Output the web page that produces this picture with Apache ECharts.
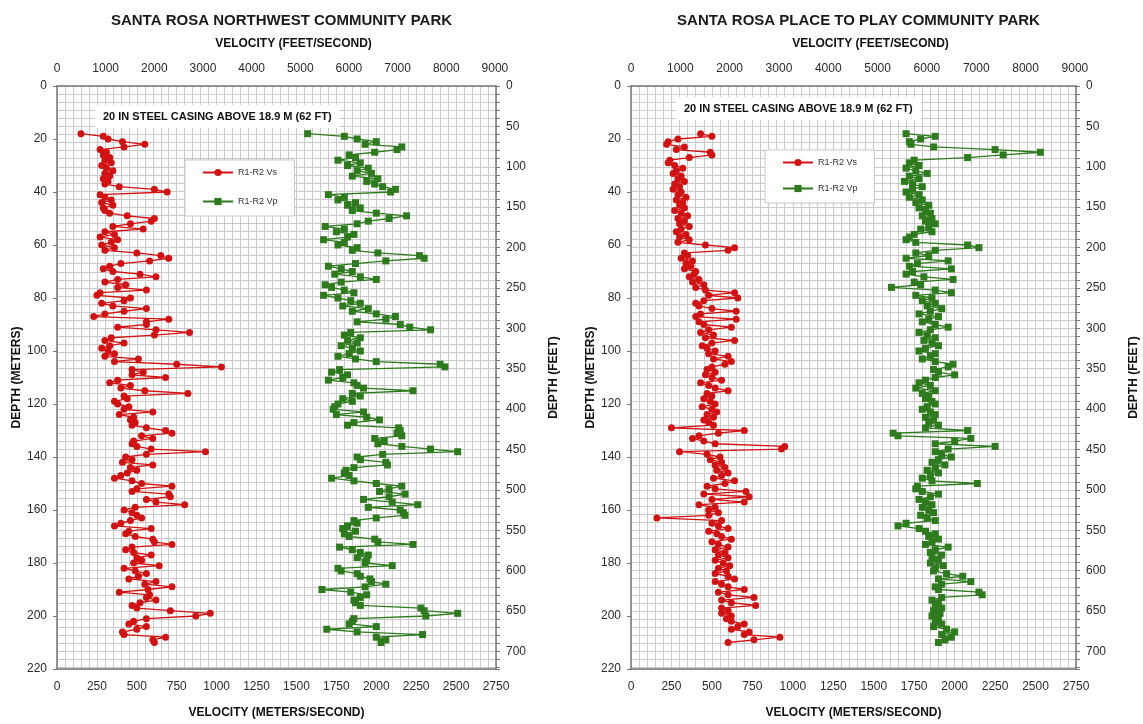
<!DOCTYPE html>
<html>
<head>
<meta charset="utf-8">
<title>Santa Rosa suspension logs</title>
<script src="https://cdn.jsdelivr.net/npm/echarts@6.0.0/dist/echarts.min.js"></script>
<style>
  html, body { margin: 0; padding: 0; background: #ffffff; }
  #chart { width: 1143px; height: 724px; }
</style>
</head>
<body>
<div id="chart"></div>
<script>
// Sample depths (meters) shared by all four R1-R2 logs
const depthM = [
  18, 19, 20, 21, 22, 23, 24, 25, 26, 27,
  28, 29, 30, 31, 32, 33, 34, 35, 36, 37,
  38, 39, 40, 41, 42, 43, 44, 45, 46, 47,
  48, 49, 50, 51, 52, 53, 54, 55, 56, 57,
  58, 59, 60, 61, 62, 63, 64, 65, 66, 67,
  68, 69, 70, 71, 72, 73, 74, 75, 76, 77,
  78, 79, 80, 81, 82, 83, 84, 85, 86, 87,
  88, 89, 90, 91, 92, 93, 94, 95, 96, 97,
  98, 99, 100, 101, 102, 103, 104, 105, 106, 107,
  108, 109, 110, 111, 112, 113, 114, 115, 116, 117,
  118, 119, 120, 121, 122, 123, 124, 125, 126, 127,
  128, 129, 130, 131, 132, 133, 134, 135, 136, 137,
  138, 139, 140, 141, 142, 143, 144, 145, 146, 147,
  148, 149, 150, 151, 152, 153, 154, 155, 156, 157,
  158, 159, 160, 161, 162, 163, 164, 165, 166, 167,
  168, 169, 170, 171, 172, 173, 174, 175, 176, 177,
  178, 179, 180, 181, 182, 183, 184, 185, 186, 187,
  188, 189, 190, 191, 192, 193, 194, 195, 196, 197,
  198, 199, 200, 201, 202, 203, 204, 205, 206, 207,
  208, 209, 210
];

// Northwest Community Park — shear-wave velocity Vs (m/s)
const vsNorthwest = [
  150, 290, 320, 410, 550, 420, 270, 310, 290, 330,
  300, 340, 280, 310, 350, 300, 330, 290, 320, 300,
  390, 610, 690, 270, 300, 340, 280, 350, 290, 300,
  330, 440, 610, 590, 460, 350, 540, 300, 360, 270,
  380, 340, 280, 360, 300, 500, 650, 700, 580, 400,
  330, 290, 350, 520, 620, 380, 300, 430, 380, 560,
  270, 250, 460, 420, 280, 350, 560, 420, 300, 230,
  700, 560, 560, 380, 620, 830, 610, 340, 300, 420,
  330, 280, 320, 360, 300, 510, 360, 750, 1030, 470,
  540, 470, 680, 380, 330, 460, 400, 550, 820, 420,
  440, 360, 380, 450, 420, 600, 390, 480, 460, 490,
  470, 560, 680, 720, 530, 600, 480, 470, 500, 590,
  930, 560, 430, 470, 410, 600, 460, 500, 440, 400,
  360, 470, 530, 720, 500, 470, 700, 710, 560, 620,
  800, 490, 420, 470, 500, 530, 460, 400, 360, 590,
  450, 430, 490, 600, 610, 720, 470, 430, 480, 590,
  500, 530, 480, 640, 420, 490, 560, 510, 450, 620,
  550, 720, 570, 390, 580, 560, 620, 520, 470, 500,
  710, 960, 870, 560, 480, 450, 560, 500, 410, 420,
  680, 600, 610
];

// Northwest Community Park — compression-wave velocity Vp (m/s)
const vpNorthwest = [
  1570, 1800, 1880, 2000, 1930, 2160, 2130, 1990, 1830, 1870,
  1760, 1900, 1820, 1950, 1880, 1970, 1850, 2010, 1940, 1990,
  2040, 2120, 2090, 1700, 1800, 1760, 1870, 1820, 1900, 1850,
  2000, 2190, 2080, 1950, 1880, 1680, 1800, 1750, 1860, 1820,
  1670, 1800, 1760, 1880, 1850, 2010, 2270, 2300, 2060, 1870,
  1700, 1780, 1850, 1740, 1900, 2000, 1780, 1680, 1720, 1800,
  1860, 1670, 1760, 1840, 1900, 1790, 1950, 1850, 2000, 2120,
  2060, 1880, 2150, 2210, 2340, 1840, 1800, 1900, 1820, 1880,
  1780, 1850, 1900, 1830, 1760, 1870, 2000, 2400, 2430, 1770,
  1720, 1820, 1790, 1700, 1860, 1880, 1920, 2230, 1850, 1900,
  1790, 1850, 1760, 1740, 1730, 1920, 1750, 1940, 2020, 1860,
  1820, 2140, 2150, 2130, 2160, 1990, 2050, 2010, 2160, 2340,
  2510, 2040, 1880, 1900, 2060, 2070, 1860, 1810, 1800, 1830,
  1720, 1860, 2000, 2160, 2080, 2020, 2180, 2080, 1920, 2100,
  2260, 1950, 2150, 2170, 2180, 2000, 1860, 1880, 1820, 1790,
  1870, 1800, 1830, 1990, 2010, 2230, 1770, 1850, 1900, 1950,
  1880, 1940, 1930, 2100, 1760, 1780, 1880, 1900, 1960, 1970,
  2060, 1930, 1660, 1840, 1940, 1900, 1860, 1870, 1900, 2280,
  2300, 2510, 2310, 1860, 1850, 1830, 2000, 1690, 1880, 2290,
  2000, 2060, 2030
];

// Place To Play Community Park — shear-wave velocity Vs (m/s)
const vsPlaceToPlay = [
  430, 500, 290, 230, 220, 330, 280, 490, 500, 360,
  240, 230, 270, 320, 280, 260, 310, 290, 330, 270,
  300, 260, 310, 290, 340, 280, 320, 300, 330, 270,
  310, 350, 290, 330, 300, 360, 310, 280, 340, 300,
  360, 290, 460, 640, 600, 330, 350, 310, 380, 340,
  370, 330, 400, 390, 360, 420, 380, 450, 400, 460,
  640, 480, 660, 450, 400, 420, 500, 650, 430, 400,
  650, 420, 450, 620, 480, 430, 510, 460, 640, 500,
  440, 470, 520, 480, 600, 510, 620, 580, 500, 470,
  520, 460, 500, 560, 430, 480, 520, 600, 470, 500,
  450, 490, 520, 440, 500, 530, 470, 510, 450, 480,
  510, 250, 700, 540, 420, 380, 450, 520, 950, 930,
  300, 470, 550, 490, 560, 520, 580, 530, 600, 560,
  510, 640, 580, 470, 520, 710, 450, 730, 500, 700,
  420, 520, 480, 540, 480, 160, 560, 500, 540, 600,
  480, 530, 560, 620, 500, 540, 600, 520, 580, 540,
  600, 520, 570, 610, 540, 590, 520, 600, 640, 520,
  560, 600, 700, 540, 600, 760, 560, 620, 770, 560,
  600, 560, 620, 590, 620, 700, 660, 620, 730, 700,
  920, 760, 600
];

// Place To Play Community Park — compression-wave velocity Vp (m/s)
const vpPlaceToPlay = [
  1700, 1880, 1790, 1720, 1730, 1870, 2250, 2530, 2300, 2080,
  1750, 1720, 1780, 1700, 1760, 1830, 1720, 1780, 1690, 1740,
  1800, 1740, 1700, 1780, 1720, 1800, 1760, 1840, 1780, 1820,
  1850, 1800, 1860, 1820, 1880, 1840, 1790, 1860, 1750, 1720,
  1700, 1760, 2080, 2150, 1880, 1760, 1840, 1700, 1960, 1770,
  1720, 1980, 1740, 1700, 1810, 1990, 1750, 1790, 1610, 1880,
  1980, 1760, 1860, 1800, 1880, 1830, 1920, 1850, 1780, 1900,
  1840, 1800, 1880, 1960, 1850, 1780, 1830, 1880, 1810, 1860,
  1900, 1820, 1780, 1880, 1850, 1800, 1880, 1990, 1960, 1870,
  1900, 2000, 1880, 1820, 1780, 1850, 1760, 1880, 1800, 1840,
  1820, 1860, 1880, 1830, 1800, 1850, 1880, 1820, 1870, 1840,
  1900, 1820, 2080, 1620, 1650, 2100, 2000, 1880, 2250, 1960,
  1880, 1920, 1980, 1900, 1860, 1940, 1880, 1830, 1900, 1850,
  1800, 1860, 2140, 1770, 1760, 1800, 1900, 1850, 1780, 1820,
  1860, 1800, 1840, 1870, 1790, 1830, 1880, 1700, 1650, 1780,
  1820, 1880, 1840, 1900, 1860, 1820, 1960, 1880, 1850, 1920,
  1860, 1900, 1850, 1930, 1880, 1870, 1950, 2050, 1900, 2100,
  1920, 1880, 1900, 2150, 2170, 1920, 1860, 1900, 1880, 1920,
  1870, 1910, 1860, 1900, 1880, 1920, 1870, 1950, 2000, 1920,
  1980, 1940, 1900
];

const panelTitles = ['SANTA ROSA NORTHWEST COMMUNITY PARK', 'SANTA ROSA PLACE TO PLAY COMMUNITY PARK'];
const casingNote = '20 IN STEEL CASING ABOVE 18.9 M (62 FT)';
const seriesNames = ['R1-R2 Vs', 'R1-R2 Vp'];

const FT_PER_M = 1 / 0.3048;
const VEL_MAX = 2750;      // m/s
const DEPTH_MAX = 220;     // m
const FONT = '"Liberation Sans", Arial, Helvetica, sans-serif';
const RED = '#d21212';
const GREEN = '#2e7b1e';
const AXIS_COLOR = '#777777';
const GRID_COLOR = '#c9c9c9';
const LABEL_COLOR = '#2b2b2b';

const panels = [
  { left: 57, width: 439, vs: vsNorthwest, vp: vpNorthwest, legendLeft: 185, legendTop: 160, legendGap: 20, noteX: 95, noteY: 105 },
  { left: 631, width: 445, vs: vsPlaceToPlay, vp: vpPlaceToPlay, legendLeft: 765, legendTop: 150, legendGap: 17, noteX: 676, noteY: 97 }
];

const axisLine = { show: true, onZero: false, lineStyle: { color: AXIS_COLOR, width: 1.5 } };
const nameStyle = { fontWeight: 'bold', fontSize: 12, color: '#111', fontFamily: FONT };
const labelStyle = { color: LABEL_COLOR, fontSize: 12, fontFamily: FONT };

const grid = [], xAxis = [], yAxis = [], series = [], legend = [], title = [], graphic = [];

panels.forEach((p, g) => {
  grid.push({ left: p.left, top: 86, width: p.width, height: 583, outerBoundsMode: 'none' });

  // bottom axis: metres per second, grid lines every 50 m/s
  xAxis.push({
    gridIndex: g, type: 'value', position: 'bottom', min: 0, max: VEL_MAX, interval: 50,
    axisLine, axisTick: { show: false },
    axisLabel: Object.assign({ margin: 12, formatter: v => (v % 250 === 0 ? String(v) : '') }, labelStyle),
    splitLine: { show: true, lineStyle: { color: GRID_COLOR, width: 1 } },
    name: 'VELOCITY (METERS/SECOND)', nameLocation: 'middle', nameGap: 38, nameTextStyle: nameStyle
  });
  // top axis: feet per second
  xAxis.push({
    gridIndex: g, type: 'value', position: 'top', min: 0, max: VEL_MAX * FT_PER_M, interval: 1000,
    axisLine, axisTick: { show: false },
    axisLabel: Object.assign({ margin: 11, formatter: v => (Math.abs(v % 1000) < 1e-6 ? String(v) : '') }, labelStyle),
    splitLine: { show: false },
    name: 'VELOCITY (FEET/SECOND)', nameLocation: 'middle', nameGap: 36,
    nameTextStyle: Object.assign({ padding: [0, 0, 0, 34] }, nameStyle)
  });
  // left axis: depth in metres
  yAxis.push({
    gridIndex: g, type: 'value', position: 'left', inverse: true, min: 0, max: DEPTH_MAX, interval: 20,
    axisLine, axisTick: { show: true, length: 4, lineStyle: { color: AXIS_COLOR } },
    axisLabel: Object.assign({ margin: 10 }, labelStyle),
    splitLine: { show: false },
    name: 'DEPTH (METERS)', nameLocation: 'middle', nameGap: 33, nameRotate: 90, nameTextStyle: nameStyle
  });
  // right axis: depth in feet, grid lines every 10 ft
  yAxis.push({
    gridIndex: g, type: 'value', position: 'right', inverse: true, min: 0, max: DEPTH_MAX * FT_PER_M, interval: 10,
    axisLine, axisTick: { show: true, length: 4, lineStyle: { color: AXIS_COLOR } },
    axisLabel: Object.assign({ margin: 10, formatter: v => (Math.abs(v % 50) < 1e-6 ? String(v) : '') }, labelStyle),
    splitLine: { show: true, lineStyle: { color: GRID_COLOR, width: 1 } },
    name: 'DEPTH (FEET)', nameLocation: 'middle', nameGap: 52, nameRotate: 90, nameTextStyle: nameStyle
  });

  const xi = g * 2, yi = g * 2;
  series.push({
    type: 'line', name: seriesNames[0], xAxisIndex: xi, yAxisIndex: yi,
    data: depthM.map((d, i) => [p.vs[i], d]),
    symbol: 'circle', symbolSize: 7, showSymbol: true,
    lineStyle: { color: RED, width: 1.3 }, itemStyle: { color: RED }, z: 3
  });
  series.push({
    type: 'line', name: seriesNames[1], xAxisIndex: xi, yAxisIndex: yi,
    data: depthM.map((d, i) => [p.vp[i], d]),
    symbol: 'rect', symbolSize: 7, showSymbol: true,
    lineStyle: { color: GREEN, width: 1.3 }, itemStyle: { color: GREEN }, z: 3
  });

  legend.push({
    left: p.legendLeft, top: p.legendTop, orient: 'vertical', data: seriesNames,
    backgroundColor: '#ffffff', borderColor: '#c9c9c9', borderWidth: 1,
    padding: [8, 17, 10, 17], itemGap: p.legendGap, itemWidth: 30, itemHeight: 9,
    textStyle: { fontSize: 9, color: '#333', fontFamily: FONT }
  });

  title.push({
    text: panelTitles[g], left: p.left + p.width / 2, top: 8, textAlign: 'center',
    textStyle: { fontSize: 15, fontWeight: 'bold', color: '#1a1a1a', fontFamily: FONT }
  });

  graphic.push({
    type: 'text', left: p.noteX, top: p.noteY, z: 100,
    style: {
      text: casingNote, font: 'bold 11px ' + FONT, fill: '#111',
      backgroundColor: '#ffffff', padding: [6, 8, 6, 8]
    }
  });
});

const chart = echarts.init(document.getElementById('chart'), null, { renderer: 'canvas' });
chart.setOption({
  animation: false,
  backgroundColor: '#ffffff',
  textStyle: { fontFamily: FONT },
  title, grid, xAxis, yAxis, series, legend, graphic,
  tooltip: { show: false }
});
</script>
</body>
</html>
